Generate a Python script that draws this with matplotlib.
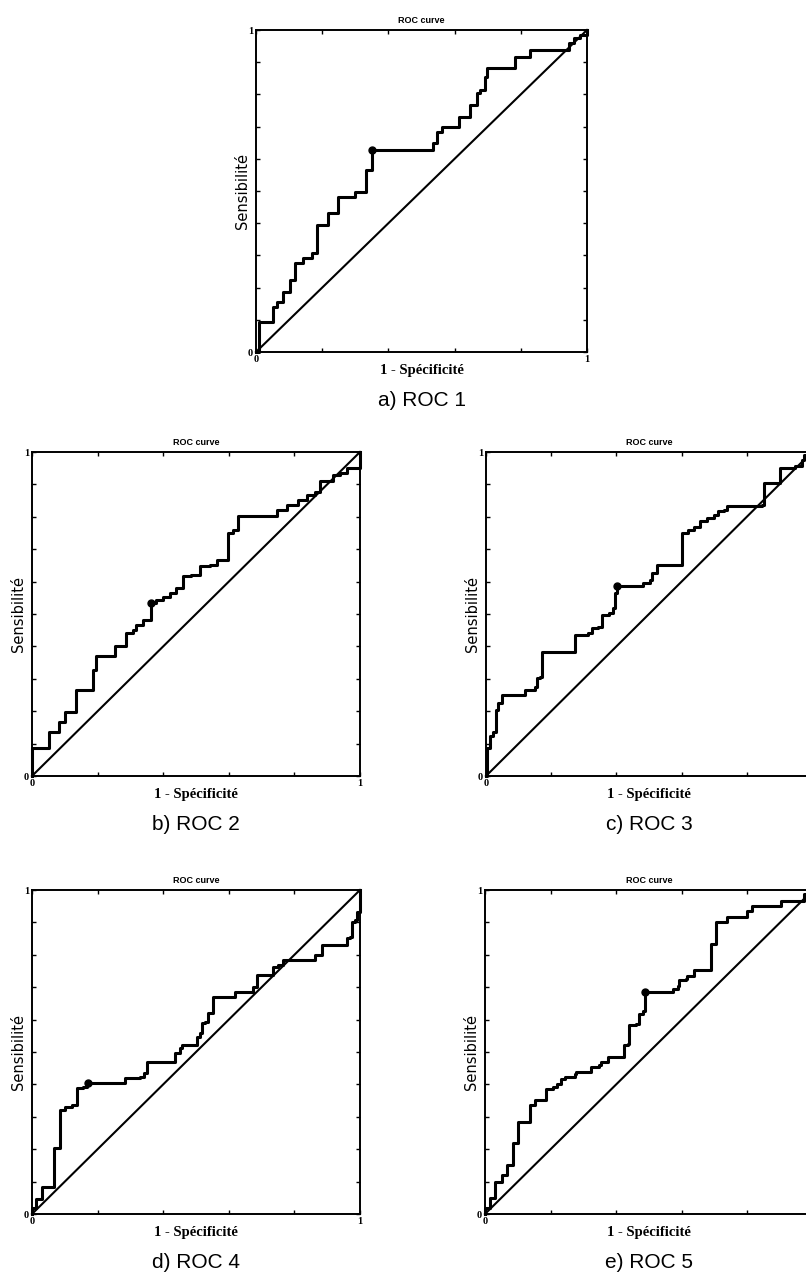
import numpy as np
import matplotlib
matplotlib.use("Agg")
import matplotlib.pyplot as plt

# Courbes ROC (1 - specificite, sensibilite), coins des marches
roc1_fpr = [0, 0.01, 0.052, 0.0625, 0.083, 0.103, 0.118, 0.143, 0.168, 0.183, 0.219, 0.249,
            0.299, 0.333, 0.350, 0.534, 0.546, 0.561, 0.612, 0.647, 0.667, 0.677, 0.693,
            0.698, 0.783, 0.829, 0.945, 0.960, 0.980, 1.0]
roc1_tpr = [0, 0.094, 0.141, 0.156, 0.187, 0.224, 0.275, 0.291, 0.306, 0.394, 0.431, 0.482,
            0.498, 0.565, 0.627, 0.648, 0.684, 0.700, 0.731, 0.767, 0.803, 0.814, 0.855,
            0.881, 0.917, 0.938, 0.959, 0.974, 0.984, 1.0]
roc1_cut = (0.350, 0.627)

roc2_fpr = [0, 0, 0.052, 0.082, 0.10, 0.135, 0.186, 0.196, 0.252, 0.286, 0.308, 0.318,
            0.339, 0.364, 0.379, 0.40, 0.42, 0.44, 0.461, 0.486, 0.512, 0.542, 0.563,
            0.598, 0.613, 0.629, 0.746, 0.776, 0.812, 0.837, 0.863, 0.878, 0.919, 0.939,
            0.959, 1.0]
roc2_tpr = [0, 0.085, 0.137, 0.168, 0.199, 0.266, 0.327, 0.369, 0.400, 0.441, 0.451, 0.467,
            0.482, 0.535, 0.544, 0.554, 0.564, 0.580, 0.616, 0.621, 0.647, 0.652, 0.667,
            0.750, 0.760, 0.801, 0.822, 0.837, 0.853, 0.868, 0.878, 0.909, 0.930, 0.935,
            0.951, 1.0]
roc2_cut = (0.364, 0.535)

roc3_fpr = [0, 0.002, 0.012, 0.023, 0.031, 0.038, 0.048, 0.120, 0.150, 0.156, 0.166, 0.171,
            0.273, 0.314, 0.324, 0.345, 0.355, 0.376, 0.391, 0.396, 0.403, 0.483, 0.504,
            0.509, 0.524, 0.601, 0.621, 0.637, 0.657, 0.678, 0.698, 0.713, 0.729, 0.739,
            0.846, 0.852, 0.903, 0.949, 0.969, 0.974, 1.0]
roc3_tpr = [0, 0.085, 0.122, 0.137, 0.204, 0.225, 0.250, 0.266, 0.276, 0.302, 0.307, 0.384,
            0.436, 0.441, 0.456, 0.461, 0.497, 0.503, 0.518, 0.564, 0.585, 0.595, 0.606,
            0.626, 0.652, 0.750, 0.760, 0.770, 0.786, 0.796, 0.806, 0.817, 0.822, 0.832,
            0.837, 0.904, 0.951, 0.956, 0.976, 0.992, 1.0]
roc3_cut = (0.403, 0.585)

roc4_fpr = [0, 0, 0.012, 0.03, 0.066, 0.086, 0.102, 0.122, 0.137, 0.157, 0.168, 0.284,
            0.33, 0.340, 0.350, 0.437, 0.452, 0.457, 0.503, 0.513, 0.518, 0.528, 0.538,
            0.553, 0.619, 0.675, 0.685, 0.736, 0.751, 0.766, 0.863, 0.883, 0.959, 0.970,
            0.975, 0.985, 0.990, 1.0]
roc4_tpr = [0, 0.02, 0.045, 0.083, 0.203, 0.321, 0.331, 0.336, 0.388, 0.393, 0.403, 0.419,
            0.422, 0.434, 0.470, 0.496, 0.511, 0.522, 0.547, 0.558, 0.588, 0.594, 0.619,
            0.671, 0.686, 0.702, 0.738, 0.763, 0.769, 0.784, 0.799, 0.830, 0.851, 0.856,
            0.902, 0.907, 0.933, 1.0]
roc4_cut = (0.170, 0.403)

roc5_fpr = [0, 0, 0.015, 0.030, 0.051, 0.066, 0.086, 0.101, 0.137, 0.152, 0.187, 0.207,
            0.218, 0.233, 0.243, 0.273, 0.278, 0.324, 0.349, 0.354, 0.374, 0.425, 0.435,
            0.440, 0.461, 0.471, 0.481, 0.488, 0.572, 0.587, 0.592, 0.612, 0.617, 0.638,
            0.688, 0.703, 0.739, 0.800, 0.815, 0.901, 0.972, 1.0]
roc5_tpr = [0, 0.02, 0.05, 0.100, 0.120, 0.151, 0.218, 0.284, 0.336, 0.351, 0.387, 0.392,
            0.402, 0.418, 0.423, 0.433, 0.438, 0.454, 0.459, 0.469, 0.485, 0.521, 0.526,
            0.582, 0.587, 0.618, 0.628, 0.685, 0.695, 0.705, 0.721, 0.726, 0.736, 0.752,
            0.834, 0.900, 0.916, 0.936, 0.950, 0.967, 0.988, 1.0]
roc5_cut = (0.488, 0.685)

panel_labels = ["a) ROC 1", "b) ROC 2", "c) ROC 3", "d) ROC 4", "e) ROC 5"]
curves = [(roc1_fpr, roc1_tpr, roc1_cut), (roc2_fpr, roc2_tpr, roc2_cut),
          (roc3_fpr, roc3_tpr, roc3_cut), (roc4_fpr, roc4_tpr, roc4_cut),
          (roc5_fpr, roc5_tpr, roc5_cut)]

# positions des axes en pixels (gauche, haut, largeur, hauteur)
W, H = 806, 1279
boxes = [(256, 30, 331, 322), (32, 452, 328, 324), (486, 452, 326, 324),
         (32, 890, 328, 324), (485, 890, 328, 324)]

fig = plt.figure(figsize=(W / 100, H / 100), dpi=100)

for (fpr, tpr, cut), lab, (x0, y0, w, h) in zip(curves, panel_labels, boxes):

    ax = fig.add_axes([x0 / W, 1 - (y0 + h) / H, w / W, h / H])

    ax.plot([0, 1], [0, 1], color="black", lw=1.5, clip_on=False)
    ax.plot(fpr, tpr, drawstyle="steps-post", color="black", lw=2.2, clip_on=False)
    ax.plot(cut[0], cut[1], "o", color="black", ms=5, clip_on=False)

    ax.set_xlim(0, 1)
    ax.set_ylim(0, 1)

    # le "1" de droite sort de l'image pour les panneaux de droite
    right_lab = "1" if x0 + w < W else ""
    ax.set_xticks(np.arange(0, 1.01, 0.2))
    ax.set_xticklabels(["0", "", "", "", "", right_lab])
    ax.set_yticks(np.arange(0, 1.01, 0.1))
    ax.set_yticklabels(["0"] + [""] * 9 + ["1"])
    ax.tick_params(direction="in", top=True, right=True, length=3, width=1,
                   labelsize=7.5, pad=2)
    for t in ax.get_xticklabels() + ax.get_yticklabels():
        t.set_fontfamily("Liberation Serif")
        t.set_fontweight("bold")

    for s in ax.spines.values():
        s.set_linewidth(1.4)

    ax.set_title("ROC curve", fontsize=6.5, fontweight="bold",
                 family="Liberation Sans", pad=5)
    ax.set_xlabel("1 - Spécificité", fontsize=10.5, fontweight="bold",
                  family="Liberation Serif", labelpad=0)
    ax.set_ylabel("Sensibilité", fontsize=10.5, family="DejaVu Sans")
    ax.yaxis.set_label_coords(-0.017, 0.5)

    # legende du sous-graphe
    fig.text((x0 + w / 2) / W, 1 - (y0 + h + 48) / H, lab, ha="center", va="center",
             fontsize=15, family="Liberation Sans")

fig.savefig("out.png", dpi=100)
